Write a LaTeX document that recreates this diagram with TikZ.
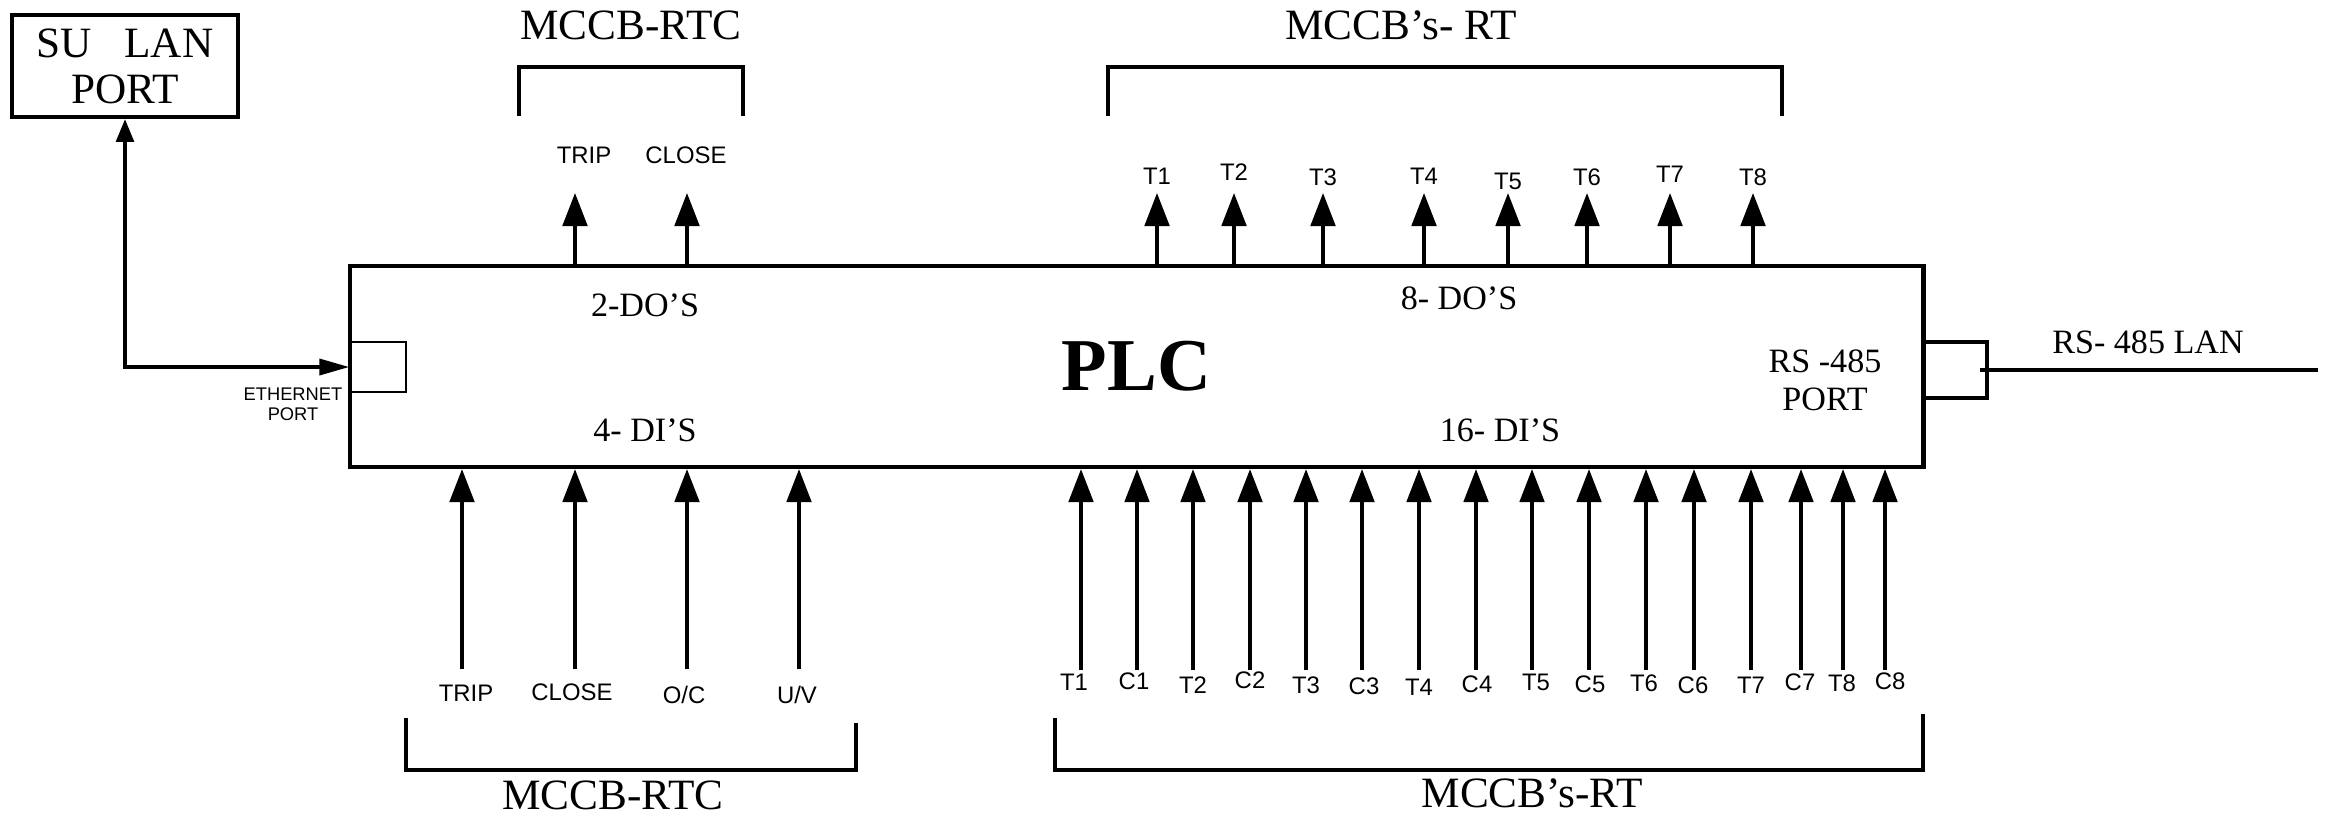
\documentclass[tikz,border=0pt]{standalone}
\usepackage{fontspec}
\setmainfont{Liberation Serif}
\setsansfont{Liberation Sans}
\usetikzlibrary{arrows.meta, positioning, calc}
\tikzset{
  plcbox/.style={draw, line width=1.15pt, font=\fontsize{21.2pt}{24pt}\selectfont\bfseries},
  iotext/.style={font=\fontsize{9.7pt}{10.8pt}\selectfont, align=center},
  mccbtext/.style={font=\fontsize{12.3pt}{14pt}\selectfont},
  lanbox/.style={draw, line width=1.15pt, minimum width=2.26cm, minimum height=1.02cm, align=center, inner sep=0pt, font=\fontsize{12.3pt}{13.1pt}\selectfont},
  ethbox/.style={draw, line width=0.35pt, minimum width=0.56cm, minimum height=0.5cm, inner sep=0pt},
  ethtext/.style={align=center, font=\sffamily\fontsize{5.2pt}{5.7pt}\selectfont},
  portbox/.style={draw, line width=1.1pt, minimum width=0.64cm, minimum height=0.56cm, inner sep=0pt},
  siglabel/.style={font=\sffamily\fontsize{6.8pt}{8pt}\selectfont},
  sig/.style={-{Triangle[length=9.4pt, width=7pt]}, line width=0.95pt},
  link/.style={{Triangle[length=6.5pt, width=5pt]}-{Triangle[length=8.5pt, width=4.5pt]}, line width=1.1pt},
  brace/.style={line width=1.05pt},
  lanline/.style={line width=1.1pt},
}
\begin{document}
\begin{tikzpicture}[x=0.01cm, y=-0.01cm]
  \useasboundingbox (0,0) rectangle (2334,814);

  % --- PLC ---
  \node[plcbox, minimum width=15.73cm, minimum height=2.01cm] (plc) at (1136.5,366.5) {PLC};
  \node[iotext] (do2) at (645,305) {2-DO’S};
  \node[iotext] (di4) at (645,430) {4- DI’S};
  \node[iotext] (do8) at (1459,298) {8- DO’S};
  \node[iotext] (di16) at (1500,430) {16- DI’S};
  \node[iotext] (rsport) at (1825,380) {RS -485\\PORT};

  % --- Ethernet side ---
  \node[lanbox] (sulan) at (125,66) {SU\ \ \ LAN\\PORT};
  \node[ethbox] (eth) at (378,367) {};
  \node[ethtext] (ethlbl) at (293,404) {ETHERNET\\PORT};
  \draw[link] (sulan.south) |- (eth.west);

  % --- RS-485 side ---
  \node[portbox] (rs485) at (1955,370) {};
  \coordinate (lanend) at (2318,370);
  \draw[lanline, shorten <=-0.09cm] (rs485.east) -- (lanend);
  \node[iotext] (lanlbl) at (2148,342) {RS- 485 LAN};

  % --- Outputs ---
  \foreach \x/\lx/\t [count=\i] in {575/584/TRIP, 687/686/CLOSE} {
    \node[siglabel] (rtcout\i) at (\lx,155) {\t};
    \coordinate (rtco\i) at (\x,193);
    \draw[sig] (plc.north -| rtco\i) -- (rtco\i);
  }
  \foreach \x/\ly [count=\i] in {1157/176, 1234/172, 1323/177, 1424/176, 1508/181, 1587/177, 1670/174, 1753/177} {
    \node[siglabel] (rtout\i) at (\x,\ly) {T\i};
    \coordinate (rto\i) at (\x,193);
    \draw[sig] (plc.north -| rto\i) -- (rto\i);
  }

  % --- Inputs ---
  \foreach \x/\lx/\ly/\t [count=\i] in {462/466/693/TRIP, 575/572/692/CLOSE, 687/684/695/{O/C}, 799/797/695/{U/V}} {
    \node[siglabel] (rtcin\i) at (\lx,\ly) {\t};
    \coordinate (rtci\i) at (\x,669);
    \draw[sig] (rtci\i) -- (plc.south -| rtci\i);
  }
  \foreach \x/\lx/\ly/\t [count=\i] in {1081/1074/682/T1, 1137/1134/681/C1, 1193/1193/685/T2, 1250/1250/680/C2,
      1306/1306/685/T3, 1362/1364/686/C3, 1419/1419/687/T4, 1476/1477/684/C4,
      1532/1536/682/T5, 1589/1590/684/C5, 1646/1644/683/T6, 1694/1693/685/C6,
      1751/1751/685/T7, 1801/1800/682/C7, 1843/1842/683/T8, 1885/1890/681/C8} {
    \node[siglabel] (rtin\i) at (\lx,\ly) {\t};
    \coordinate (rti\i) at (\x,670);
    \draw[sig] (rti\i) -- (plc.south -| rti\i);
  }

  % --- MCCB groups ---
  \draw[brace] (519,116) |- (743,67) -- (743,116);
  \node[mccbtext] (rtctop) at (631,25) {MCCB-RTC};
  \draw[brace] (1108,116) |- (1782,67) -- (1782,116);
  \node[mccbtext] (rttop) at (1401,25) {MCCB’s- RT};
  \draw[brace] (406,718) |- (856,770) -- (856,723);
  \node[mccbtext] (rtcbot) at (613,795) {MCCB-RTC};
  \draw[brace] (1055,718) |- (1923,770) -- (1923,714);
  \node[mccbtext] (rtbot) at (1532,793) {MCCB’s-RT};

\end{tikzpicture}
\end{document}
